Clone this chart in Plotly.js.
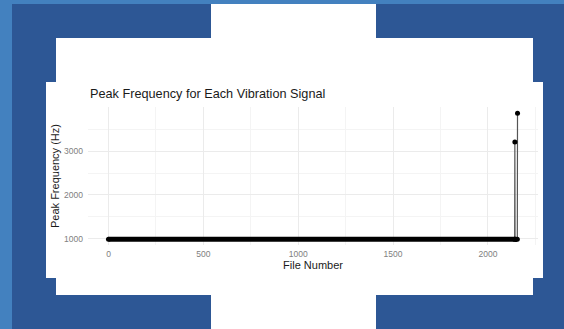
<!DOCTYPE html>
<html>
<head>
<meta charset="utf-8">
<script src="https://cdn.plot.ly/plotly-3.0.1.min.js"></script>
<style>
  html, body { margin:0; padding:0; }
  body { width:564px; height:329px; overflow:hidden; position:relative; background:#2d5795; }
  .lb { position:absolute; background:#4381bf; }
  .w { position:absolute; background:#ffffff; }
  #chart { position:absolute; left:0; top:0; width:564px; height:329px; }
</style>
</head>
<body>
<div class="lb" style="left:0;top:0;width:12px;height:329px;"></div>
<div class="lb" style="left:0;top:0;width:564px;height:4px;"></div>
<div class="w" style="left:211px;top:4px;width:165px;height:34px;"></div>
<div class="w" style="left:56px;top:38px;width:477px;height:44px;"></div>
<div class="w" style="left:46px;top:82px;width:497px;height:196px;"></div>
<div class="w" style="left:56px;top:278px;width:477px;height:17px;"></div>
<div class="w" style="left:211px;top:295px;width:165px;height:34px;"></div>
<div id="chart"></div>
<script>
// Data (file number vs peak frequency in Hz).
// The long flat run at the baseline consists of densely packed points.
const fileNumber = [0, 2141, 2142, 2143, 2155, 2156];
const peakHz     = [985, 985, 3210, 985, 985, 3870];
const baselineHz = 985;

const xTickVals = [0, 500, 1000, 1500, 2000];
const yTickVals = [1000, 2000, 3000];

// dense baseline run (overlapping markers form a thick band)
const bandX = [], bandY = [];
for (let i = 0; i < fileNumber.length; i++) {
  if (peakHz[i] === baselineHz) { bandX.push(fileNumber[i]); bandY.push(peakHz[i]); }
  else { bandX.push(null); bandY.push(null); }
}

const traces = [
  { x: fileNumber, y: peakHz, type: 'scatter', mode: 'lines',
    line: { color: '#555555', width: 1.2 }, hoverinfo: 'skip', showlegend: false },
  { x: bandX, y: bandY, type: 'scatter', mode: 'lines', connectgaps: false,
    line: { color: '#000000', width: 5 }, hoverinfo: 'skip', showlegend: false },
  { x: fileNumber, y: peakHz, type: 'scatter', mode: 'markers',
    marker: { color: '#000000', size: 5 }, hoverinfo: 'skip', showlegend: false }
];

const fontFam = '"Liberation Sans", Arial, Helvetica, sans-serif';

const layout = {
  width: 564, height: 329,
  margin: { l: 88, r: 26, t: 107, b: 84, pad: 0 },
  paper_bgcolor: 'rgba(0,0,0,0)',
  plot_bgcolor: 'rgba(0,0,0,0)',
  font: { family: fontFam },
  title: {
    text: 'Peak Frequency for Each Vibration Signal',
    font: { size: 12.7, color: '#1a1a1a', family: fontFam },
    xref: 'paper', x: 2/450, xanchor: 'left',
    yref: 'container', y: 1 - 94/329, yanchor: 'middle'
  },
  xaxis: {
    range: [-108, 2264],
    tickmode: 'array', tickvals: xTickVals,
    ticks: '', showline: false, zeroline: false,
    showgrid: true, gridcolor: '#ebebeb', gridwidth: 1,
    minor: { dtick: 250, tick0: 0, showgrid: true, gridcolor: '#f4f4f4', gridwidth: 1, ticks: '' },
    tickfont: { size: 8.5, color: '#808080', family: fontFam },
    ticklabelstandoff: 2,
    title: { text: 'File Number', font: { size: 11, color: '#1a1a1a', family: fontFam }, standoff: 3 },
    automargin: false, fixedrange: true
  },
  yaxis: {
    range: [856, 4010],
    tickmode: 'array', tickvals: yTickVals,
    ticks: '', showline: false, zeroline: false,
    showgrid: true, gridcolor: '#ebebeb', gridwidth: 1,
    minor: { dtick: 500, tick0: 0, showgrid: true, gridcolor: '#f4f4f4', gridwidth: 1, ticks: '' },
    tickfont: { size: 8.5, color: '#808080', family: fontFam },
    ticklabelstandoff: 4,
    title: { text: 'Peak Frequency (Hz)', font: { size: 11, color: '#1a1a1a', family: fontFam }, standoff: 2 },
    automargin: false, fixedrange: true
  }
};

Plotly.newPlot('chart', traces, layout, { displayModeBar: false, staticPlot: true });
</script>
</body>
</html>
